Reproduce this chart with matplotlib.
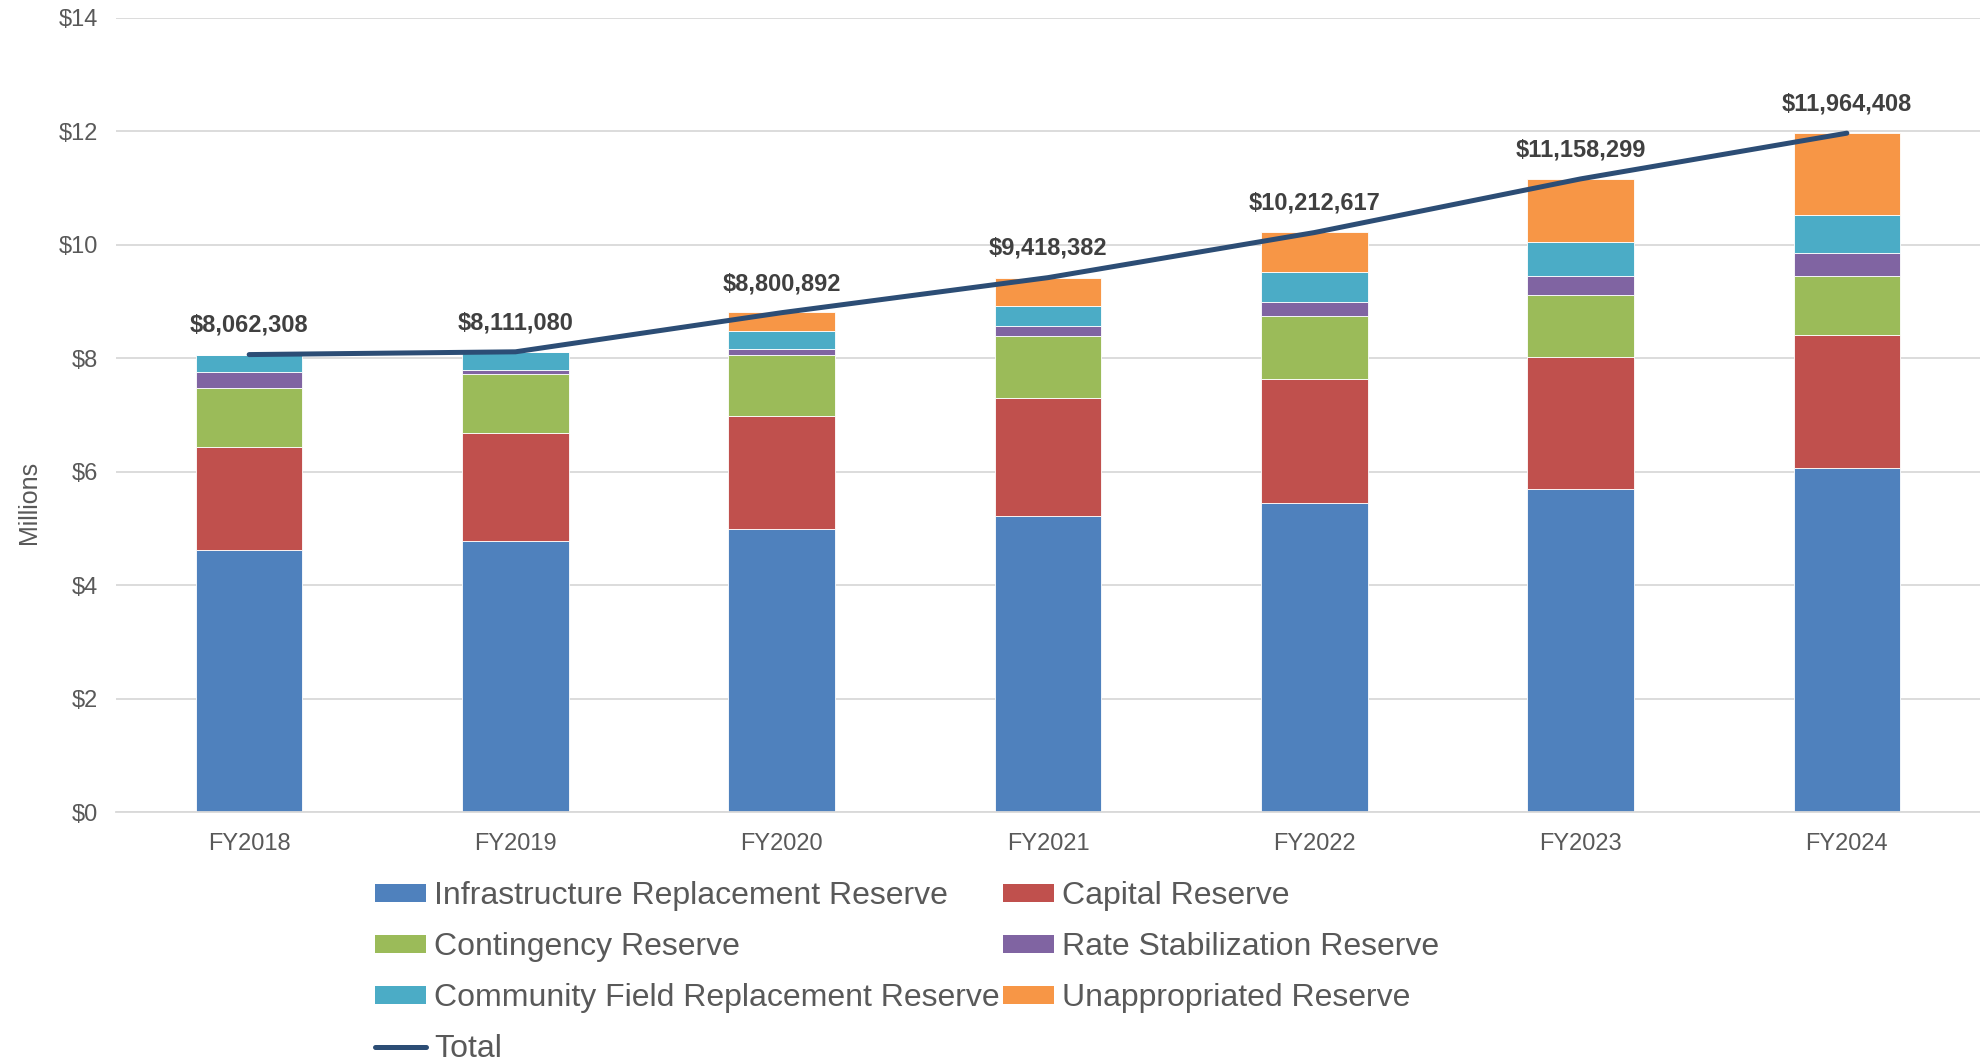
import matplotlib
matplotlib.use("Agg")
import matplotlib.pyplot as plt
from matplotlib.patches import Patch
from matplotlib.lines import Line2D
import numpy as np

plt.rcParams['font.family'] = ['Liberation Sans', 'DejaVu Sans']

years = ['FY2018', 'FY2019', 'FY2020', 'FY2021', 'FY2022', 'FY2023', 'FY2024']

# reserve balances in $ millions
infrastructure = [4.62, 4.77, 4.99, 5.21, 5.44, 5.69, 6.06]
capital = [1.81, 1.91, 1.99, 2.09, 2.19, 2.33, 2.35]
contingency = [1.04, 1.04, 1.07, 1.09, 1.11, 1.09, 1.03]
rate_stab = [0.28, 0.07, 0.11, 0.17, 0.25, 0.34, 0.42]
community_field = [0.31, 0.32, 0.32, 0.35, 0.52, 0.59, 0.67]
unappropriated = [0.00, 0.00, 0.33, 0.51, 0.71, 1.12, 1.43]

totals = [8062308, 8111080, 8800892, 9418382, 10212617, 11158299, 11964408]

series = [
    ('Infrastructure Replacement Reserve', infrastructure, '#4F81BD'),
    ('Capital Reserve', capital, '#C0504D'),
    ('Contingency Reserve', contingency, '#9BBB59'),
    ('Rate Stabilization Reserve', rate_stab, '#8064A2'),
    ('Community Field Replacement Reserve', community_field, '#4BACC6'),
    ('Unappropriated Reserve', unappropriated, '#F79646'),
]
line_color = '#2C4D75'

fig = plt.figure(figsize=(19.8, 10.64), dpi=100)
ax = fig.add_axes([0.0586, 0.2368, 0.9414, 0.7466])

x = np.arange(len(years))
bottom = np.zeros(len(years))
handles = {}
for name, vals, col in series:
    vals = np.array(vals)
    ax.bar(x, vals, 0.4, bottom=bottom, color=col, edgecolor='white',
           linewidth=0.6, zorder=2)
    bottom += vals
    handles[name] = Patch(facecolor=col, edgecolor='none')

tot_m = np.array(totals) / 1e6
ax.plot(x, tot_m, color=line_color, linewidth=3.6, solid_capstyle='round', zorder=3)
for xi, t, tm in zip(x, totals, tot_m):
    ax.annotate('${:,}'.format(t), (xi, tm), xytext=(0, 21), textcoords='offset points',
                ha='center', va='center', fontsize=17, fontweight='bold', color='#404040')

ax.set_xlim(-0.5, 6.5)
ax.set_ylim(0, 14)
ax.set_yticks(range(0, 15, 2))
ax.set_yticklabels(['${}'.format(v) for v in range(0, 15, 2)])
ax.set_xticks(x)
ax.set_xticklabels(years)
ax.tick_params(axis='both', length=0, labelsize=17, colors='#595959')
ax.tick_params(axis='y', pad=13)
ax.tick_params(axis='x', pad=15)
ax.grid(axis='y', color='#D9D9D9', linewidth=1.3, zorder=0)
ax.set_axisbelow(True)
for s in ['top', 'right', 'left']:
    ax.spines[s].set_visible(False)
ax.spines['bottom'].set_color('#D9D9D9')
ax.spines['bottom'].set_linewidth(1.3)

ax.set_ylabel('Millions', fontsize=18, color='#595959')
ax.yaxis.set_label_coords(-0.040, 0.39)

total_handle = Line2D([0], [0], color=line_color, linewidth=3.6, solid_capstyle='round')
order = ['Infrastructure Replacement Reserve', 'Contingency Reserve',
         'Community Field Replacement Reserve', None,
         'Capital Reserve', 'Rate Stabilization Reserve', 'Unappropriated Reserve']
leg_h = [handles[n] if n else total_handle for n in order]
leg_l = [n if n else 'Total' for n in order]
fig.legend(leg_h, leg_l, loc='upper left', bbox_to_anchor=(0.1815, 0.187), ncol=2,
           frameon=False, fontsize=23, handlelength=1.6, handleheight=0.5,
           handletextpad=0.25, columnspacing=0.1, labelspacing=0.66, borderpad=0,
           labelcolor='#595959')

fig.savefig('out.png', dpi=100)
